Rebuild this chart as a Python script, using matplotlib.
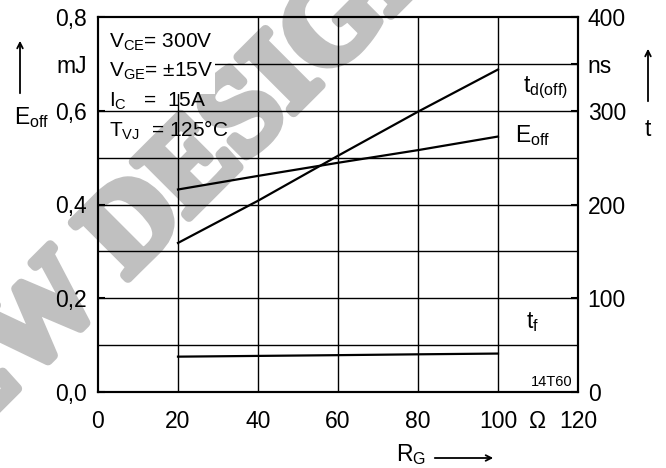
import matplotlib
matplotlib.use("Agg")
import matplotlib.pyplot as plt
import matplotlib.patheffects as pe
from matplotlib.patches import Rectangle

plt.rcParams["font.family"] = ["Liberation Sans", "DejaVu Sans"]
plt.rcParams["mathtext.fontset"] = "custom"
plt.rcParams["mathtext.rm"] = "Liberation Sans"

# gate resistance (ohm) and switching figures read at each point
RG = [20, 40, 60, 80, 100]
E_OFF = [0.432, 0.461, 0.489, 0.516, 0.545]      # mJ, left axis
T_DOFF = [159, 204, 252, 299, 344]               # ns, right axis
T_F = [37.7, 38.5, 39.3, 40.2, 41.0]             # ns, right axis

X_TICKS = [0, 20, 40, 60, 80, 100, 110, 120]
X_LABELS = ["0", "20", "40", "60", "80", "100", "Ω", "120"]
Y_TICKS = [0.0, 0.2, 0.4, 0.6, 0.7, 0.8]
Y_LABELS = ["0,0", "0,2", "0,4", "0,6", "mJ", "0,8"]
Y2_TICKS = [0, 100, 200, 300, 350, 400]
Y2_LABELS = ["0", "100", "200", "300", "ns", "400"]

CONDITIONS = [r"$\mathregular{V_{CE}}$= 300V",
              r"$\mathregular{V_{GE}}$= ±15V",
              r"$\mathregular{I_C}$   =  15A",
              r"$\mathregular{T_{VJ}}$  = 125°C"]

FS = 16.5

fig = plt.figure(figsize=(6.66, 4.68), dpi=100)

# grey watermark, drawn underneath everything else
fig.text(0.237, 0.556, "NEW DESIGN", rotation=45, ha="center", va="center",
         fontsize=86, fontweight="bold", family="Liberation Serif",
         color="#c0c0c0", zorder=-5,
         path_effects=[pe.withStroke(linewidth=7, foreground="#c0c0c0")])

ax = fig.add_axes([98 / 666, 1 - 392 / 468, 480 / 666, 375 / 468])
ax.set_xlim(0, 120)
ax.set_ylim(0, 0.8)
ax.patch.set_alpha(0)

for x in range(20, 120, 20):
    ax.axvline(x, color="black", lw=1.0, zorder=1)
for k in range(1, 8):
    ax.axhline(k / 10, color="black", lw=1.0, zorder=1)

# white panel for the test conditions
ax.add_patch(Rectangle((0, 0.635), 29.3, 0.165, facecolor="white",
                       edgecolor="none", zorder=2))
for i, line in enumerate(CONDITIONS):
    ax.text(2.8, 0.745 - i * 0.062, line, fontsize=15, va="center", zorder=3)

ax.plot(RG, E_OFF, color="black", lw=1.6, zorder=4)

ax2 = ax.twinx()
ax2.set_ylim(0, 400)
ax2.plot(RG, T_DOFF, color="black", lw=1.6, zorder=4)
ax2.plot(RG, T_F, color="black", lw=1.6, zorder=4)

ax.text(106.3, 0.648, r"$\mathregular{t_{d(off)}}$", fontsize=FS, va="center", zorder=5)
ax.text(104.3, 0.548, r"$\mathregular{E_{off}}$", fontsize=FS, va="center", zorder=5)
ax.text(107, 0.150, r"$\mathregular{t_f}$", fontsize=FS, va="center", zorder=5)
ax.text(118.6, 0.021, "14T60", fontsize=10.5, ha="right", va="center", zorder=5)

ax.set_xticks(X_TICKS, X_LABELS)
ax.set_yticks(Y_TICKS, Y_LABELS)
ax2.set_yticks(Y2_TICKS, Y2_LABELS)
ax.tick_params(axis="x", direction="in", length=0, pad=13, labelsize=FS)
ax.tick_params(axis="y", direction="in", length=5, width=1.5, pad=8, labelsize=FS)
ax2.tick_params(axis="y", direction="in", length=5, width=1.5, pad=7, labelsize=FS)
for a in (ax, ax2):
    for s in a.spines.values():
        s.set_linewidth(1.5)

# axis names with their arrows
fig.text(14 / 666, 1 - 118 / 468, r"$\mathregular{E_{off}}$", fontsize=FS, va="center")
ax.annotate("", xy=(20 / 666, 1 - 38 / 468), xytext=(20 / 666, 1 - 96 / 468),
            xycoords="figure fraction",
            arrowprops=dict(arrowstyle="->", lw=1.3, color="black"))
fig.text(648 / 666, 1 - 130 / 468, "t", fontsize=FS, va="center", ha="center")
ax.annotate("", xy=(648 / 666, 1 - 46 / 468), xytext=(648 / 666, 1 - 104 / 468),
            xycoords="figure fraction",
            arrowprops=dict(arrowstyle="->", lw=1.3, color="black"))
fig.text(396 / 666, 1 - 455 / 468, r"$\mathregular{R_G}$", fontsize=FS, va="center")
ax.annotate("", xy=(496 / 666, 1 - 458 / 468), xytext=(432 / 666, 1 - 458 / 468),
            xycoords="figure fraction",
            arrowprops=dict(arrowstyle="->", lw=1.3, color="black"))

fig.savefig("out.png", dpi=100)
